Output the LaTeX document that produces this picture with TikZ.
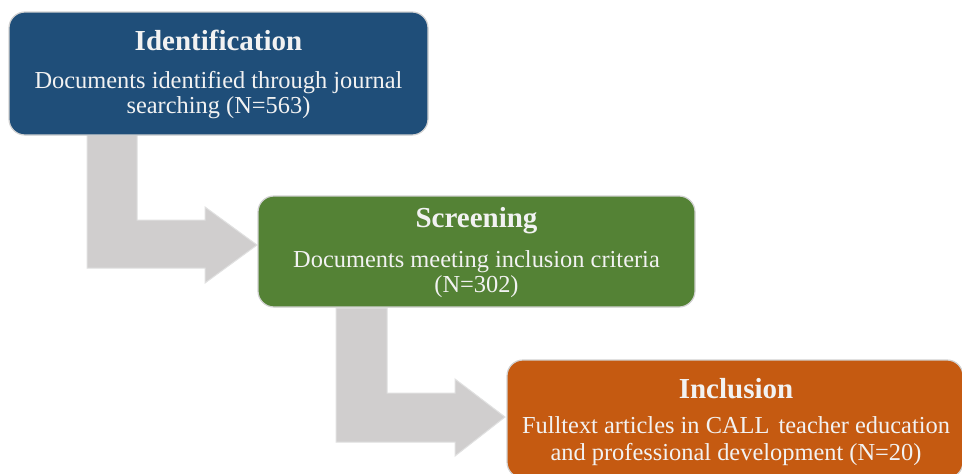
\documentclass[tikz,border=0pt]{standalone}
\usepackage{fontspec}
\setmainfont{Liberation Serif}
\definecolor{idblue}{HTML}{1F4E79}
\definecolor{scgreen}{HTML}{548235}
\definecolor{inorange}{HTML}{C55A11}
\definecolor{arrowgray}{HTML}{D0CECE}
\definecolor{txtwhite}{HTML}{F2F2F2}
\begin{document}
\begin{tikzpicture}[x=1pt,y=-1pt,
  box/.style={draw=black!18, line width=1.2pt, rounded corners=16pt, inner sep=0pt},
  ttl/.style={anchor=base, text=txtwhite, font=\fontsize{29}{30}\selectfont\bfseries, inner sep=0pt},
  txt/.style={anchor=base, text=txtwhite, font=\fontsize{24.4}{25}\selectfont, inner sep=0pt},
  bent/.style={fill=arrowgray, draw=black!12, line width=1pt, line join=miter}]
\useasboundingbox (0,0) rectangle (962,474);
\fill[white] (0,0) rectangle (962,474);
% bent arrows (drawn first, behind boxes)
\coordinate (a1tip) at (257,245);
\coordinate (a2tip) at (505,417);
\draw[bent] (87,135) -- (137,135) -- (137,220) -- (205,220) -- (205,207) -- (a1tip)
  -- (205,283) -- (205,268) -- (87,268) -- cycle;
\draw[bent] (336,308) -- (387,308) -- (387,393) -- (455,393) -- (455,379) -- (a2tip)
  -- (455,456) -- (455,442) -- (336,442) -- cycle;
% boxes
\node[box, fill=idblue, minimum width=419pt, minimum height=123pt] (id) at (218.5,73.5) {};
\node[box, fill=scgreen, minimum width=437pt, minimum height=111pt] (sc) at (476.5,251.5) {};
\node[box, fill=inorange, minimum width=456pt, minimum height=118pt] (in) at (735,419) {};
% texts
\node[ttl] (idT) at (218.5,50) {Identification};
\node[txt] (idL1) at (218.5,88) {Documents identified through journal};
\node[txt] (idL2) at (218.5,113) {searching (N=563)};
\node[ttl] (scT) at (476.5,227) {Screening};
\node[txt] (scL1) at (476.5,267) {Documents meeting inclusion criteria};
\node[txt] (scL2) at (476.5,292) {(N=302)};
\node[ttl] (inT) at (736,398) {Inclusion};
\node[txt] (inL1) at (736,433) {Fulltext articles in CALL\hspace{3pt} teacher education};
\node[txt] (inL2) at (736,460) {and professional development (N=20)};
\end{tikzpicture}
\end{document}
